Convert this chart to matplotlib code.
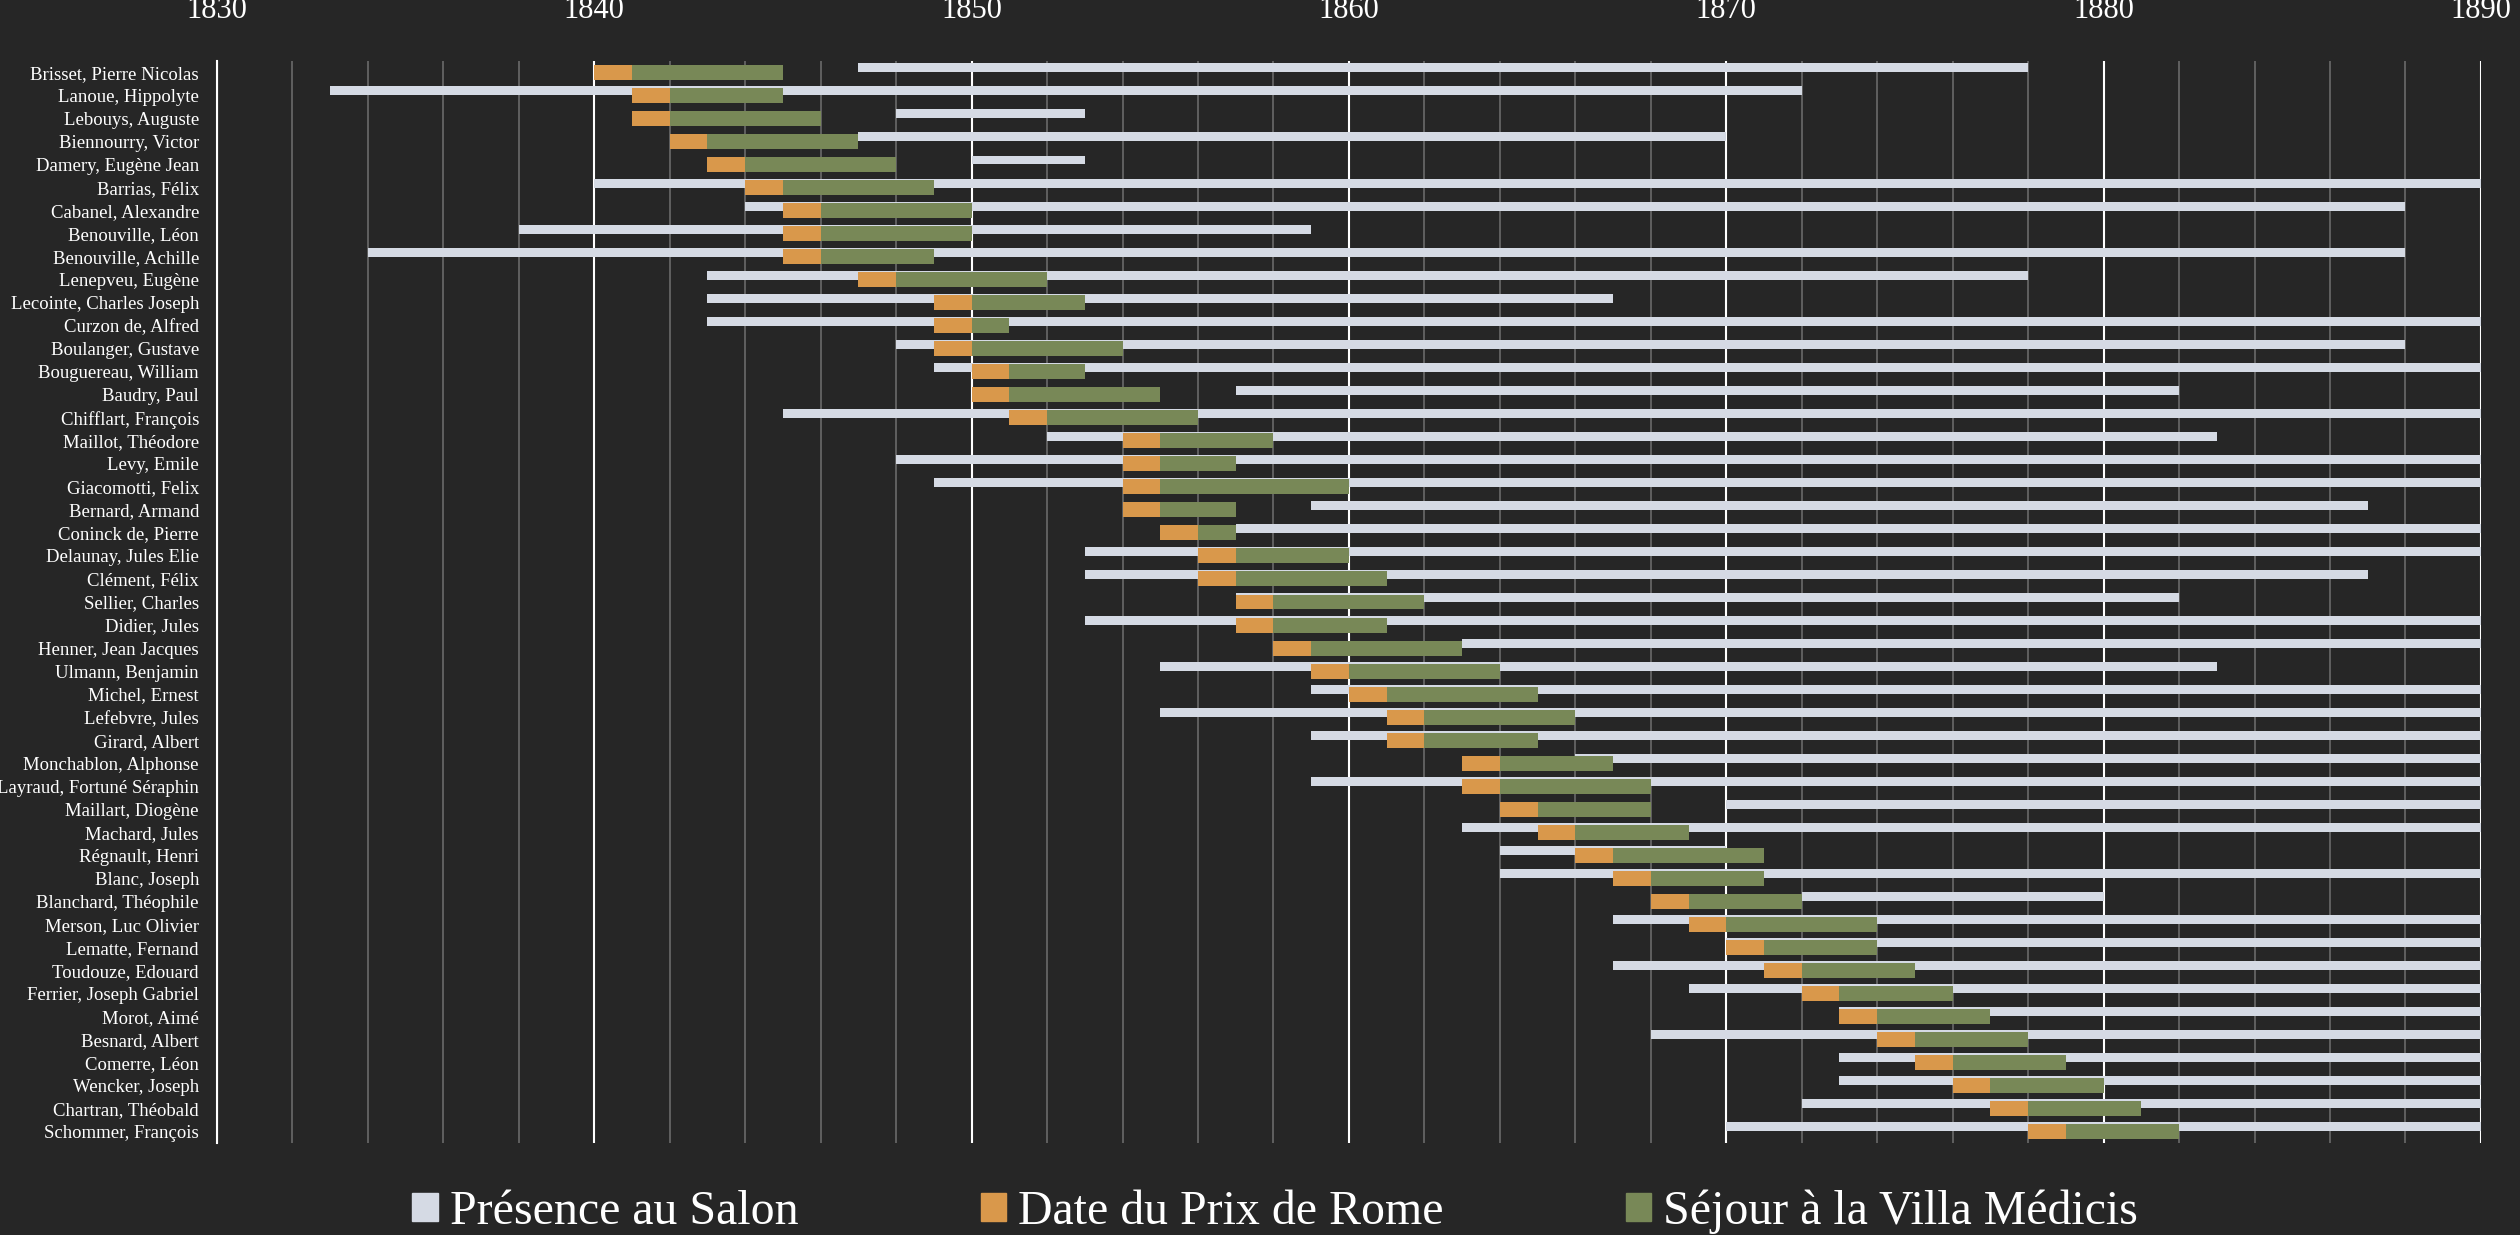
import matplotlib.pyplot as plt
from matplotlib.patches import Patch

# Peintres (ordre du haut vers le bas)
noms = ["Brisset, Pierre Nicolas", "Lanoue, Hippolyte", "Lebouys, Auguste", "Biennourry, Victor",
        "Damery, Eugène Jean", "Barrias, Félix", "Cabanel, Alexandre", "Benouville, Léon",
        "Benouville, Achille", "Lenepveu, Eugène", "Lecointe, Charles Joseph", "Curzon de, Alfred",
        "Boulanger, Gustave", "Bouguereau, William", "Baudry, Paul", "Chifflart, François",
        "Maillot, Théodore", "Levy, Emile", "Giacomotti, Felix", "Bernard, Armand",
        "Coninck de, Pierre", "Delaunay, Jules Elie", "Clément, Félix", "Sellier, Charles",
        "Didier, Jules", "Henner, Jean Jacques", "Ulmann, Benjamin", "Michel, Ernest",
        "Lefebvre, Jules", "Girard, Albert", "Monchablon, Alphonse", "Layraud, Fortuné Séraphin",
        "Maillart, Diogène", "Machard, Jules", "Régnault, Henri", "Blanc, Joseph",
        "Blanchard, Théophile", "Merson, Luc Olivier", "Lematte, Fernand", "Toudouze, Edouard",
        "Ferrier, Joseph Gabriel", "Morot, Aimé", "Besnard, Albert", "Comerre, Léon",
        "Wencker, Joseph", "Chartran, Théobald", "Schommer, François"]

salon_debut = [1847, 1833, 1848, 1847, 1850, 1840, 1844, 1838, 1834, 1843, 1843, 1843,
               1848, 1849, 1857, 1845, 1852, 1848, 1849, 1859, 1857, 1853, 1853, 1857,
               1853, 1863, 1855, 1859, 1855, 1859, 1866, 1859, 1870, 1863, 1864, 1864,
               1872, 1867, 1870, 1867, 1869, 1873, 1868, 1873, 1873, 1872, 1870]
salon_fin = [1878, 1872, 1853, 1870, 1853, 1890, 1888, 1859, 1888, 1878, 1867, 1890,
             1888, 1890, 1882, 1890, 1883, 1890, 1890, 1887, 1890, 1890, 1887, 1882,
             1890, 1890, 1883, 1890, 1890, 1890, 1890, 1890, 1890, 1890, 1870, 1890,
             1880, 1890, 1890, 1890, 1890, 1890, 1890, 1890, 1890, 1890, 1890]
prix_rome = [1840, 1841, 1841, 1842, 1843, 1844, 1845, 1845, 1845, 1847, 1849, 1849,
             1849, 1850, 1850, 1851, 1854, 1854, 1854, 1854, 1855, 1856, 1856, 1857,
             1857, 1858, 1859, 1860, 1861, 1861, 1863, 1863, 1864, 1865, 1866, 1867,
             1868, 1869, 1870, 1871, 1872, 1873, 1874, 1875, 1876, 1877, 1878]
villa_debut = [1841, 1842, 1842, 1843, 1844, 1845, 1846, 1846, 1846, 1848, 1850, 1850,
               1850, 1851, 1851, 1852, 1855, 1855, 1855, 1855, 1856, 1857, 1857, 1858,
               1858, 1859, 1860, 1861, 1862, 1862, 1864, 1864, 1865, 1866, 1867, 1868,
               1869, 1870, 1871, 1872, 1873, 1874, 1875, 1876, 1877, 1878, 1879]
villa_fin = [1845, 1845, 1846, 1847, 1848, 1849, 1850, 1850, 1849, 1852, 1853, 1851,
             1854, 1853, 1855, 1856, 1858, 1857, 1860, 1857, 1857, 1860, 1861, 1862,
             1861, 1863, 1864, 1865, 1866, 1865, 1867, 1868, 1868, 1869, 1871, 1871,
             1872, 1874, 1874, 1875, 1876, 1877, 1878, 1879, 1880, 1881, 1882]

bg = '#262626'
c_salon = '#d5dae4'
c_prix = '#d9984b'
c_villa = '#788857'

plt.rcParams['font.family'] = ['Liberation Serif', 'DejaVu Serif']

fig = plt.figure(figsize=(25.2, 12.35), dpi=100, facecolor=bg)
ax = fig.add_axes([0.0861, 0.0745, 0.8984, 0.8761], facecolor=bg)

rows = list(range(len(noms)))
salon_y = [r - 0.2 for r in rows]
ax.barh(salon_y, [f - d for d, f in zip(salon_debut, salon_fin)], left=salon_debut,
        height=0.39, color=c_salon, zorder=2)
ax.barh(rows, [1] * len(rows), left=prix_rome, height=0.65, color=c_prix, zorder=3)
ax.barh(rows, [f - d for d, f in zip(villa_debut, villa_fin)], left=villa_debut,
        height=0.65, color=c_villa, zorder=3)

ax.set_xlim(1830, 1890)
ax.set_ylim(len(noms) - 0.5, -0.5)
ax.set_yticks(rows)
ax.set_yticklabels(noms, fontsize=13.5, color='white')
ax.tick_params(axis='y', length=0, pad=13)

ax.xaxis.tick_top()
ax.set_xticks(range(1830, 1891, 10))
ax.set_xticks(range(1830, 1891, 2), minor=True)
ax.tick_params(axis='x', which='both', length=0, labelsize=22, labelcolor='white', pad=26)
ax.grid(True, which='major', axis='x', color='white', linewidth=1.5, zorder=0)
ax.grid(True, which='minor', axis='x', color='#6a6a6a', linewidth=1.2, zorder=0)
ax.set_axisbelow(True)

for s in ['top', 'right', 'bottom']:
    ax.spines[s].set_visible(False)
ax.spines['left'].set_color('white')
ax.spines['left'].set_linewidth(1.5)

handles = [Patch(color=c_salon, label='Présence au Salon'),
           Patch(color=c_prix, label='Date du Prix de Rome'),
           Patch(color=c_villa, label='Séjour à la Villa Médicis')]
leg = fig.legend(handles=handles, loc='center', bbox_to_anchor=(0.506, 0.019), ncol=3,
                 frameon=False, fontsize=34.5, handlelength=0.53, handleheight=0.53,
                 handletextpad=0.25, columnspacing=3.8)
for t in leg.get_texts():
    t.set_color('white')

plt.savefig('out.png', dpi=100, facecolor=bg)
